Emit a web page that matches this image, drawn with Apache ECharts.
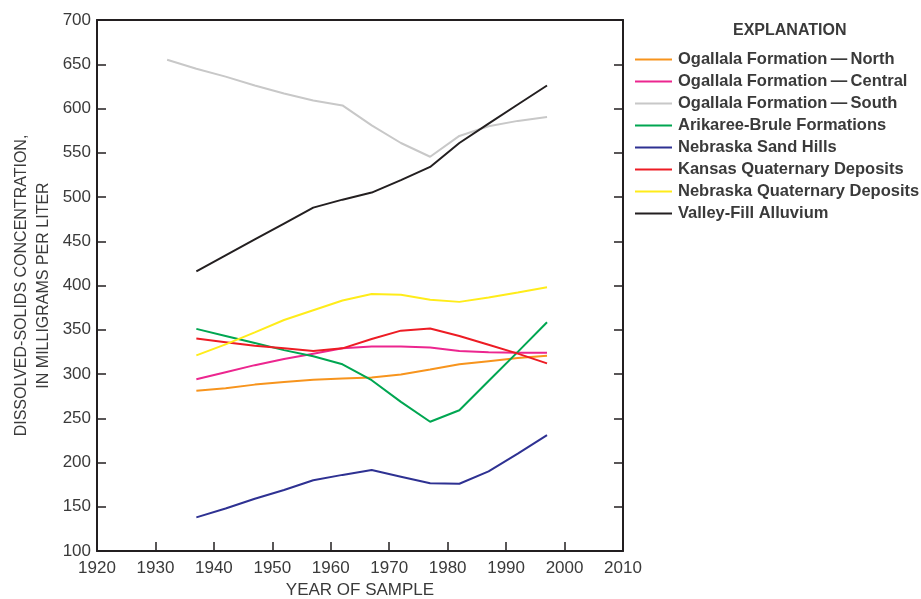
<!DOCTYPE html>
<html>
<head>
<meta charset="utf-8">
<script src="https://cdn.jsdelivr.net/npm/echarts@6/dist/echarts.min.js"></script>
<style>
  html, body { margin: 0; padding: 0; background: #fff; }
  #chart { width: 921px; height: 599px; }
</style>
</head>
<body>
<div id="chart"></div>
<script>
// sample years (Ogallala South starts 5 years earlier)
var years = [1937, 1942, 1947, 1952, 1957, 1962, 1967, 1972, 1977, 1982, 1987, 1992, 1997]
var southYears = [1932, 1937, 1942, 1947, 1952, 1957, 1962, 1967, 1972, 1977, 1982, 1987, 1992, 1997]

var ogallalaNorth = [281, 284, 288, 291, 293.5, 295, 296, 299.5, 305, 311, 314.5, 318, 320.5]
var ogallalaCentral = [294, 302, 310, 317, 323, 329, 331, 331, 330, 326, 324.5, 324, 324]
var ogallalaSouth = [655, 645, 636, 626, 617, 609, 603.5, 581, 561, 545.5, 569, 580, 586, 590.5]
var arikareeBrule = [351, 343, 335, 327, 320, 311, 293, 268.5, 246, 259, 292, 325, 358.5]
var sandHills = [138, 148, 159, 169, 180, 186, 191.5, 184, 176.5, 176, 190, 210, 231]
var kansasQuaternary = [340, 336, 332, 329, 326, 329, 339.5, 349, 351.5, 343, 333, 323, 312]
var nebraskaQuaternary = [321, 333.5, 347, 361, 372, 383, 390.5, 389.5, 384, 381.5, 386.5, 392, 398]
var valleyFill = [416, 434, 452, 470, 488, 497, 505, 519, 534, 561, 583, 604.5, 626]

var xTicks = [1920, 2010, 10]
var yTicks = [100, 700, 50]

var FONT = '"Liberation Sans", Arial, sans-serif'
var TXT = '#3a3a3a'
var SEP = '\u2009\u2014\u2009'

function pairs(xs, ys) {
  return ys.map(function (v, i) { return [xs[i], v] })
}

var seriesDefs = [
  { name: 'Ogallala Formation' + SEP + 'North', x: years, y: ogallalaNorth, color: '#F7941D' },
  { name: 'Ogallala Formation' + SEP + 'Central', x: years, y: ogallalaCentral, color: '#EC268F' },
  { name: 'Ogallala Formation' + SEP + 'South', x: southYears, y: ogallalaSouth, color: '#C8C8C8' },
  { name: 'Arikaree-Brule Formations', x: years, y: arikareeBrule, color: '#00A651' },
  { name: 'Nebraska Sand Hills', x: years, y: sandHills, color: '#2E3192' },
  { name: 'Kansas Quaternary Deposits', x: years, y: kansasQuaternary, color: '#ED1C24' },
  { name: 'Nebraska Quaternary Deposits', x: years, y: nebraskaQuaternary, color: '#FFEC1A' },
  { name: 'Valley-Fill Alluvium', x: years, y: valleyFill, color: '#231F20' }
]

var chart = echarts.init(document.getElementById('chart'), null, { renderer: 'canvas' })

chart.setOption({
  animation: false,
  backgroundColor: '#fff',
  textStyle: { fontFamily: FONT },
  title: {
    text: 'EXPLANATION',
    left: 733,
    top: 23,
    padding: 0,
    textStyle: { fontFamily: FONT, fontSize: 16, fontWeight: 'bold', color: TXT }
  },
  legend: {
    orient: 'vertical',
    left: 635,
    top: 51,
    icon: 'rect',
    itemWidth: 37,
    itemHeight: 2,
    itemGap: 5,
    padding: 0,
    textStyle: { fontFamily: FONT, fontSize: 16.5, fontWeight: 'bold', color: TXT, lineHeight: 17, padding: [0, 0, 0, 1] },
    data: seriesDefs.map(function (s) { return s.name })
  },
  grid: {
    left: 97,
    right: 298,
    top: 20,
    bottom: 48,
    outerBoundsMode: 'none'
  },
  xAxis: [{
    type: 'value',
    min: xTicks[0],
    max: xTicks[1],
    interval: xTicks[2],
    name: 'YEAR OF SAMPLE',
    nameLocation: 'middle',
    nameGap: 31,
    nameMoveOverlap: false,
    nameTextStyle: { fontFamily: FONT, fontSize: 17, color: TXT },
    axisLine: { lineStyle: { color: '#231F20', width: 2 } },
    axisTick: { inside: true, length: 9, lineStyle: { color: '#231F20', width: 1.5 } },
    axisLabel: { margin: 9, fontFamily: FONT, fontSize: 17, color: TXT, formatter: function (v) { return String(v) } },
    splitLine: { show: false }
  }, {
    type: 'value',
    position: 'top',
    min: xTicks[0],
    max: xTicks[1],
    interval: xTicks[2],
    axisLine: { lineStyle: { color: '#231F20', width: 2 } },
    axisTick: { show: false },
    axisLabel: { show: false },
    splitLine: { show: false }
  }],
  yAxis: [{
    type: 'value',
    min: yTicks[0],
    max: yTicks[1],
    interval: yTicks[2],
    name: 'DISSOLVED-SOLIDS CONCENTRATION,\nIN MILLIGRAMS PER LITER',
    nameLocation: 'middle',
    nameRotate: 90,
    nameGap: 42,
    nameMoveOverlap: false,
    nameTextStyle: { fontFamily: FONT, fontSize: 16, color: TXT, lineHeight: 22 },
    axisLine: { lineStyle: { color: '#231F20', width: 2 } },
    axisTick: { inside: true, length: 9, lineStyle: { color: '#231F20', width: 1.5 } },
    axisLabel: { margin: 6, fontFamily: FONT, fontSize: 17, color: TXT },
    splitLine: { show: false }
  }, {
    type: 'value',
    position: 'right',
    min: yTicks[0],
    max: yTicks[1],
    interval: yTicks[2],
    axisLine: { lineStyle: { color: '#231F20', width: 2 } },
    axisTick: { inside: true, length: 9, lineStyle: { color: '#231F20', width: 1.5 } },
    axisLabel: { show: false },
    splitLine: { show: false }
  }],
  series: seriesDefs.map(function (s) {
    return {
      name: s.name,
      type: 'line',
      data: pairs(s.x, s.y),
      showSymbol: false,
      symbol: 'none',
      color: s.color,
      lineStyle: { color: s.color, width: 2 }
    }
  })
})
</script>
</body>
</html>
